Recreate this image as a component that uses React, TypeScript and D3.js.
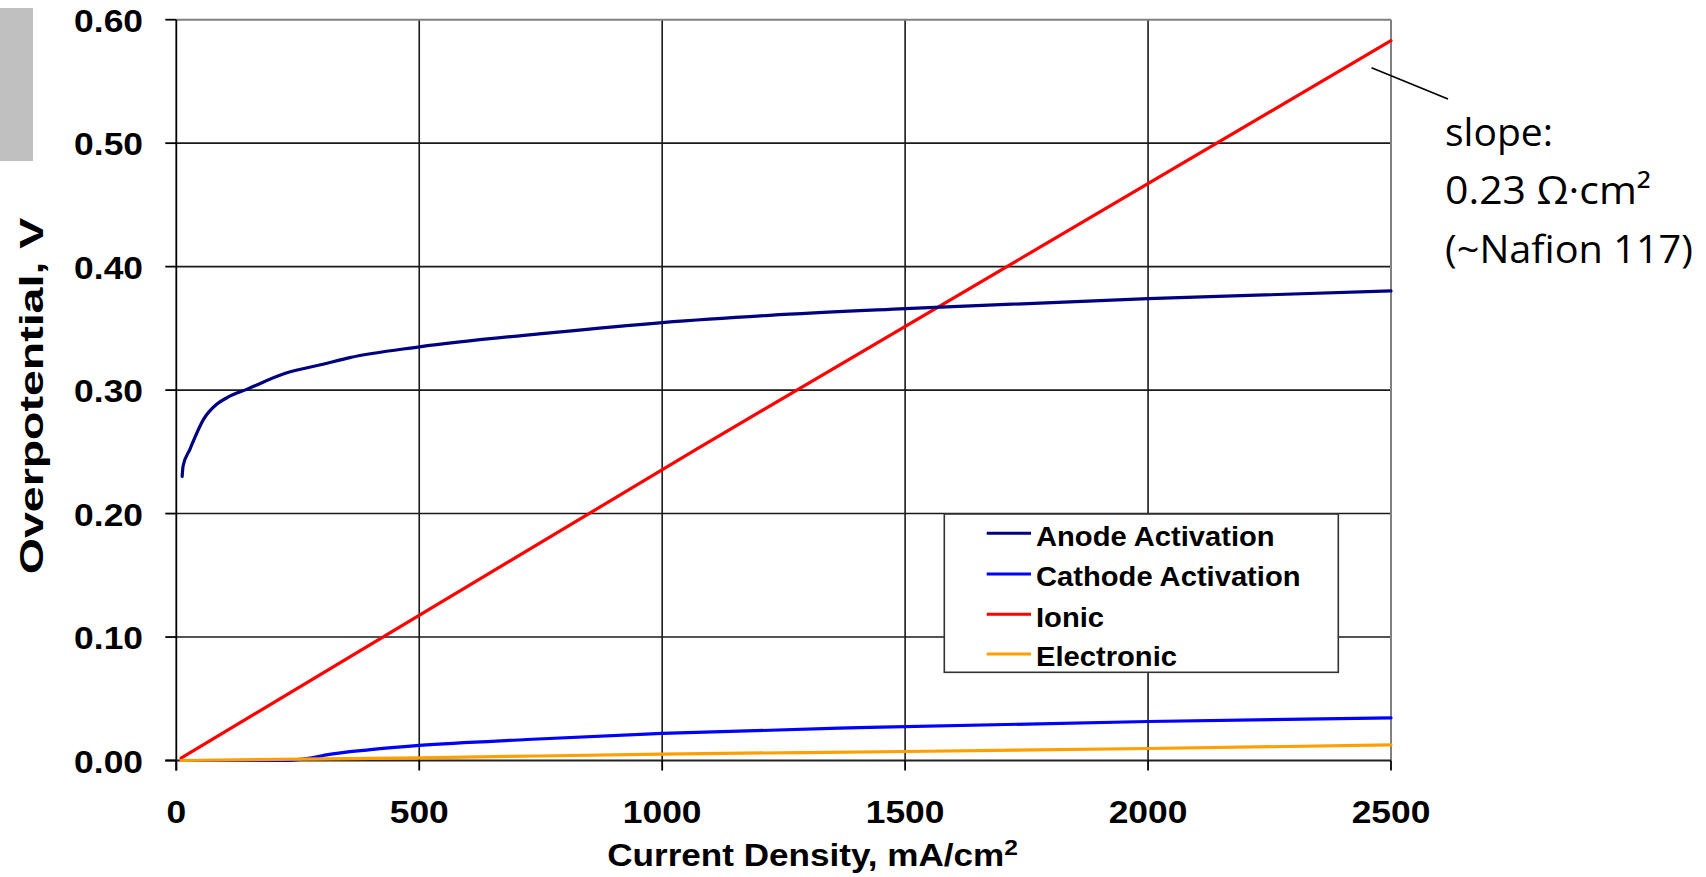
import React from "react";
import * as d3 from "d3";

// ---- data ----
const xTicks = [0, 500, 1000, 1500, 2000, 2500];
const yTicks = [0, 0.1, 0.2, 0.3, 0.4, 0.5, 0.6];

const anodeI = [12, 14, 28, 56, 83, 105, 145, 223, 302, 357, 500, 774, 1000, 1221, 1500, 2000, 2500];
const anodeV = [0.230, 0.2385, 0.252, 0.2763, 0.2885, 0.294, 0.3006, 0.3134, 0.3209, 0.3263, 0.335, 0.3466, 0.3547, 0.3606, 0.366, 0.3741, 0.3803];

const cathodeI = [10, 230, 260, 290, 309, 400, 500, 722, 1000, 1427, 2000, 2500];
const cathodeV = [0, 0, 0.0012, 0.003, 0.0045, 0.0088, 0.0122, 0.017, 0.0219, 0.0268, 0.0316, 0.0346];

const ionicI = [10, 1070, 2500];
const ionicV = [0.002, 0.252, 0.583];

const electronicI = [10, 500, 1000, 1500, 2000, 2500];
const electronicV = [0, 0.0022, 0.0052, 0.0073, 0.0097, 0.0126];

const seriesNames = ["Anode Activation", "Cathode Activation", "Ionic", "Electronic"];
const seriesColors = ["#000080", "#0000ff", "#ff0000", "#ffa000"];

const annotationLines = ["slope:", "0.23 Ω·cm²", "(~Nafion 117)"];

export default function App() {
  const W = 1706, H = 877;
  const x = d3.scaleLinear().domain([0, 2500]).range([176.3, 1391]);
  const y = d3.scaleLinear().domain([0, 0.6]).range([760.5, 19.7]);
  const line = d3
    .line<[number, number]>()
    .x((d) => x(d[0]))
    .y((d) => y(d[1]))
    .curve(d3.curveMonotoneX);

  const series = [
    { I: anodeI, V: anodeV },
    { I: cathodeI, V: cathodeV },
    { I: ionicI, V: ionicV },
    { I: electronicI, V: electronicV },
  ];
  const order = [2, 0, 1, 3];

  const font = "'Liberation Sans', Arial, sans-serif";
  const legendX = 944.3, legendY = 514, legendW = 394, legendH = 158.3;
  const legendRowY = [533.3, 574, 614.3, 654];

  const annAnchor: [number, number] = [2460, 0.561];
  const annWidths = [108, 206, 248];
  const annBase = [146, 204, 263];

  return (
    <svg
      width={W}
      height={H}
      style={{ position: "absolute", left: 0, top: 0, background: "#fff" }}
    >
      <rect x={0} y={0} width={W} height={H} fill="#fff" />
      <rect x={0} y={8} width={33} height={153} fill="#c0c0c0" />

      {yTicks.slice(1, -1).map((t) => (
        <line key={"gy" + t} x1={x(0)} x2={x(2500)} y1={y(t)} y2={y(t)} stroke="#1a1a1a" strokeWidth={1.6} />
      ))}
      {xTicks.slice(1, -1).map((t) => (
        <line key={"gx" + t} x1={x(t)} x2={x(t)} y1={y(0)} y2={y(0.6)} stroke="#1a1a1a" strokeWidth={1.6} />
      ))}
      <line x1={x(0)} x2={x(2500)} y1={y(0.6)} y2={y(0.6)} stroke="#808080" strokeWidth={2} />
      <line x1={x(2500)} x2={x(2500)} y1={y(0.6)} y2={y(0)} stroke="#808080" strokeWidth={2} />

      <line x1={x(0)} x2={x(0)} y1={y(0.6)} y2={y(0) + 10} stroke="#000" strokeWidth={1.8} />
      <line x1={x(0) - 11} x2={x(2500)} y1={y(0)} y2={y(0)} stroke="#222" strokeWidth={2} />
      {yTicks.map((t) => (
        <line key={"ty" + t} x1={x(0) - 11} x2={x(0)} y1={y(t)} y2={y(t)} stroke="#000" strokeWidth={1.8} />
      ))}
      {xTicks.map((t) => (
        <line key={"tx" + t} x1={x(t)} x2={x(t)} y1={y(0)} y2={y(0) + 10} stroke="#000" strokeWidth={1.8} />
      ))}

      {yTicks.map((t) => (
        <text
          key={"ly" + t}
          transform={`translate(143,${y(t) + 12}) scale(1.18,1.03)`}
          textAnchor="end"
          fontFamily={font}
          fontWeight="bold"
          fontSize={30}
          fill="#000"
        >
          {d3.format(".2f")(t)}
        </text>
      ))}
      {xTicks.map((t) => (
        <text
          key={"lx" + t}
          transform={`translate(${x(t)},823) scale(1.18,1.03)`}
          textAnchor="middle"
          fontFamily={font}
          fontWeight="bold"
          fontSize={30}
          fill="#000"
        >
          {t}
        </text>
      ))}

      <text
        transform="translate(812.6,866) scale(1.17,1.03)"
        textAnchor="middle"
        fontFamily={font}
        fontWeight="bold"
        fontSize={30}
        fill="#000"
      >
        Current Density, mA/cm
        <tspan fontSize={21} dy={-11}>2</tspan>
      </text>
      <text
        transform="translate(43,396) rotate(-90) scale(1.55,1.12)"
        textAnchor="middle"
        fontFamily={font}
        fontWeight="bold"
        fontSize={30}
        fill="#000"
      >
        Overpotential, V
      </text>

      {order.map((k) => (
        <path
          key={"s" + k}
          d={line(series[k].I.map((v, i) => [v, series[k].V[i]] as [number, number])) || ""}
          fill="none"
          stroke={seriesColors[k]}
          strokeWidth={3.2}
          strokeLinejoin="round"
          strokeLinecap="round"
        />
      ))}

      <rect x={legendX} y={legendY} width={legendW} height={legendH} fill="#fff" stroke="#333" strokeWidth={1.6} />
      {seriesNames.map((n, i) => (
        <g key={"lg" + i}>
          <line x1={986.7} x2={1031} y1={legendRowY[i]} y2={legendRowY[i]} stroke={seriesColors[i]} strokeWidth={3} />
          <text
            transform={`translate(1036,${legendRowY[i] + 12.4}) scale(1.08,1.03)`}
            fontFamily={font}
            fontWeight="bold"
            fontSize={27}
            fill="#000"
          >
            {n}
          </text>
        </g>
      ))}

      <line x1={x(annAnchor[0])} y1={y(annAnchor[1])} x2={1448} y2={99} stroke="#000" strokeWidth={1.6} />
      {annotationLines.map((s, i) => (
        <text
          key={"an" + i}
          x={1445}
          y={annBase[i]}
          textLength={annWidths[i]}
          lengthAdjust="spacingAndGlyphs"
          fontFamily="'Open Sans', 'Noto Sans', sans-serif"
          fontSize={38}
          fill="#000"
        >
          {s}
        </text>
      ))}
    </svg>
  );
}
